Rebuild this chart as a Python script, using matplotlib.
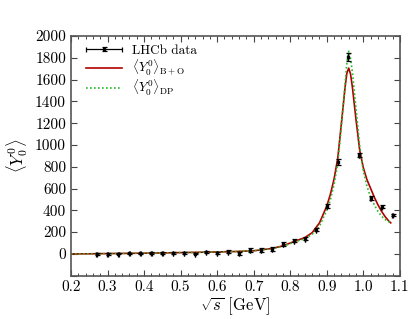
import matplotlib
matplotlib.use("Agg")
import matplotlib.pyplot as plt
from matplotlib.ticker import MultipleLocator
from matplotlib.legend_handler import HandlerErrorbar
from matplotlib.container import ErrorbarContainer

plt.rcParams['font.family'] = 'serif'
plt.rcParams['font.serif'] = ['cmr10']
plt.rcParams['mathtext.fontset'] = 'cm'
plt.rcParams['axes.formatter.use_mathtext'] = True

# LHCb data
data_x = [0.27, 0.30, 0.33, 0.36, 0.39, 0.42, 0.45, 0.48, 0.51, 0.54,
          0.57, 0.60, 0.63, 0.66, 0.69, 0.72, 0.75, 0.78, 0.81, 0.84,
          0.87, 0.90, 0.93, 0.958, 0.988, 1.02, 1.05, 1.08]
data_y = [0, 0, 2, 5, 5, 8, 10, 7, 8, 3,
          15, 9, 21, 6, 34, 37, 46, 92, 119, 140,
          223, 440, 841, 1810, 908, 511, 434, 358]
data_err = [6, 6, 6, 7, 7, 7, 7, 7, 7, 7,
            10, 10, 14, 16, 18, 18, 16, 16, 14, 14,
            14, 18, 28, 35, 20, 16, 12, 10]

# <Y00>_{B+O}
bo_x = [0.20, 0.25, 0.30, 0.35, 0.40, 0.45, 0.50, 0.55, 0.60, 0.65, 0.70,
        0.75, 0.78, 0.80, 0.82, 0.84, 0.86, 0.88, 0.90, 0.91, 0.92, 0.93,
        0.94, 0.95, 0.955, 0.960, 0.965, 0.97, 0.98, 0.99, 1.00, 1.01,
        1.02, 1.03, 1.04, 1.05, 1.06, 1.07, 1.075]
bo_y = [0, 1, 3, 5, 7, 9, 12, 15, 18, 22, 29,
        50, 74, 100, 125, 150, 195, 285, 440, 550, 690, 880,
        1200, 1530, 1660, 1705, 1650, 1530, 1230, 950, 790, 680,
        600, 520, 450, 390, 340, 300, 285]

# <Y00>_{DP}
dp_x = [0.20, 0.25, 0.30, 0.35, 0.40, 0.45, 0.50, 0.55, 0.60, 0.65, 0.70,
        0.75, 0.78, 0.80, 0.82, 0.84, 0.86, 0.88, 0.90, 0.91, 0.92, 0.93,
        0.94, 0.95, 0.955, 0.960, 0.965, 0.97, 0.98, 0.99, 1.00, 1.01,
        1.02, 1.03, 1.04, 1.05, 1.06, 1.07, 1.075]
dp_y = [0, 1, 3, 5, 7, 9, 12, 15, 18, 22, 29,
        48, 70, 95, 118, 140, 180, 255, 400, 500, 640, 830,
        1180, 1560, 1760, 1860, 1790, 1670, 1330, 990, 760, 620,
        520, 450, 390, 345, 315, 295, 285]

fig = plt.figure(figsize=(4.11, 3.19), dpi=100)
ax = fig.add_axes([0.1727, 0.1357, 0.8003, 0.7515])

eb = ax.errorbar(data_x, data_y, yerr=data_err, xerr=0.0005, fmt='s', color='black',
                 markersize=1.8, elinewidth=0.9, capsize=1.8, capthick=0.9,
                 label='LHCb data', zorder=3)
l1, = ax.plot(bo_x, bo_y, color='#b00000', lw=1.2,
              label=r'$\langle Y_0^0\rangle_{\mathrm{B+O}}$', zorder=2)
l2, = ax.plot(dp_x, dp_y, color='#22bb22', lw=1.2, ls=(0, (1.0, 1.4)),
              label=r'$\langle Y_0^0\rangle_{\mathrm{DP}}$', zorder=2)

ax.set_xlim(0.2, 1.1)
ax.set_ylim(-200, 2000)
ax.xaxis.set_minor_locator(MultipleLocator(0.02))
ax.set_yticks([-200, 0, 200, 400, 600, 800, 1000, 1200, 1400, 1600, 1800, 2000])
ax.set_yticklabels(['', '0', '200', '400', '600', '800', '1000', '1200', '1400',
                    '1600', '1800', '2000'])
ax.set_xticks([0.2, 0.3, 0.4, 0.5, 0.6, 0.7, 0.8, 0.9, 1.0, 1.1])
ax.set_xticklabels(['0.2', '0.3', '0.4', '0.5', '0.6', '0.7', '0.8', '0.9', '1.0', '1.1'])
ax.tick_params(which='both', direction='in', top=True, right=True, colors='#444444',
               labelcolor='black', labelsize=11)
ax.tick_params(which='major', length=4, width=0.8)
ax.tick_params(which='minor', length=2, width=0.7)
for s in ax.spines.values():
    s.set_color('#555555')
    s.set_linewidth(1.2)

ax.set_xlabel(r'$\sqrt{s}$ [GeV]', fontsize=12, labelpad=1)
ax.set_ylabel(r'$\langle Y_0^0\rangle$', fontsize=12, labelpad=4)

ax.legend([eb, l1, l2], [eb.get_label(), l1.get_label(), l2.get_label()],
          loc='upper left', bbox_to_anchor=(0.03, 0.985), frameon=False,
          fontsize=9.5, handlelength=2.7, borderaxespad=0.0, labelspacing=0.02,
          handletextpad=0.8,
          handler_map={ErrorbarContainer: HandlerErrorbar(xerr_size=1.35, yerr_size=0.15)})

fig.savefig('out.png', dpi=100)
